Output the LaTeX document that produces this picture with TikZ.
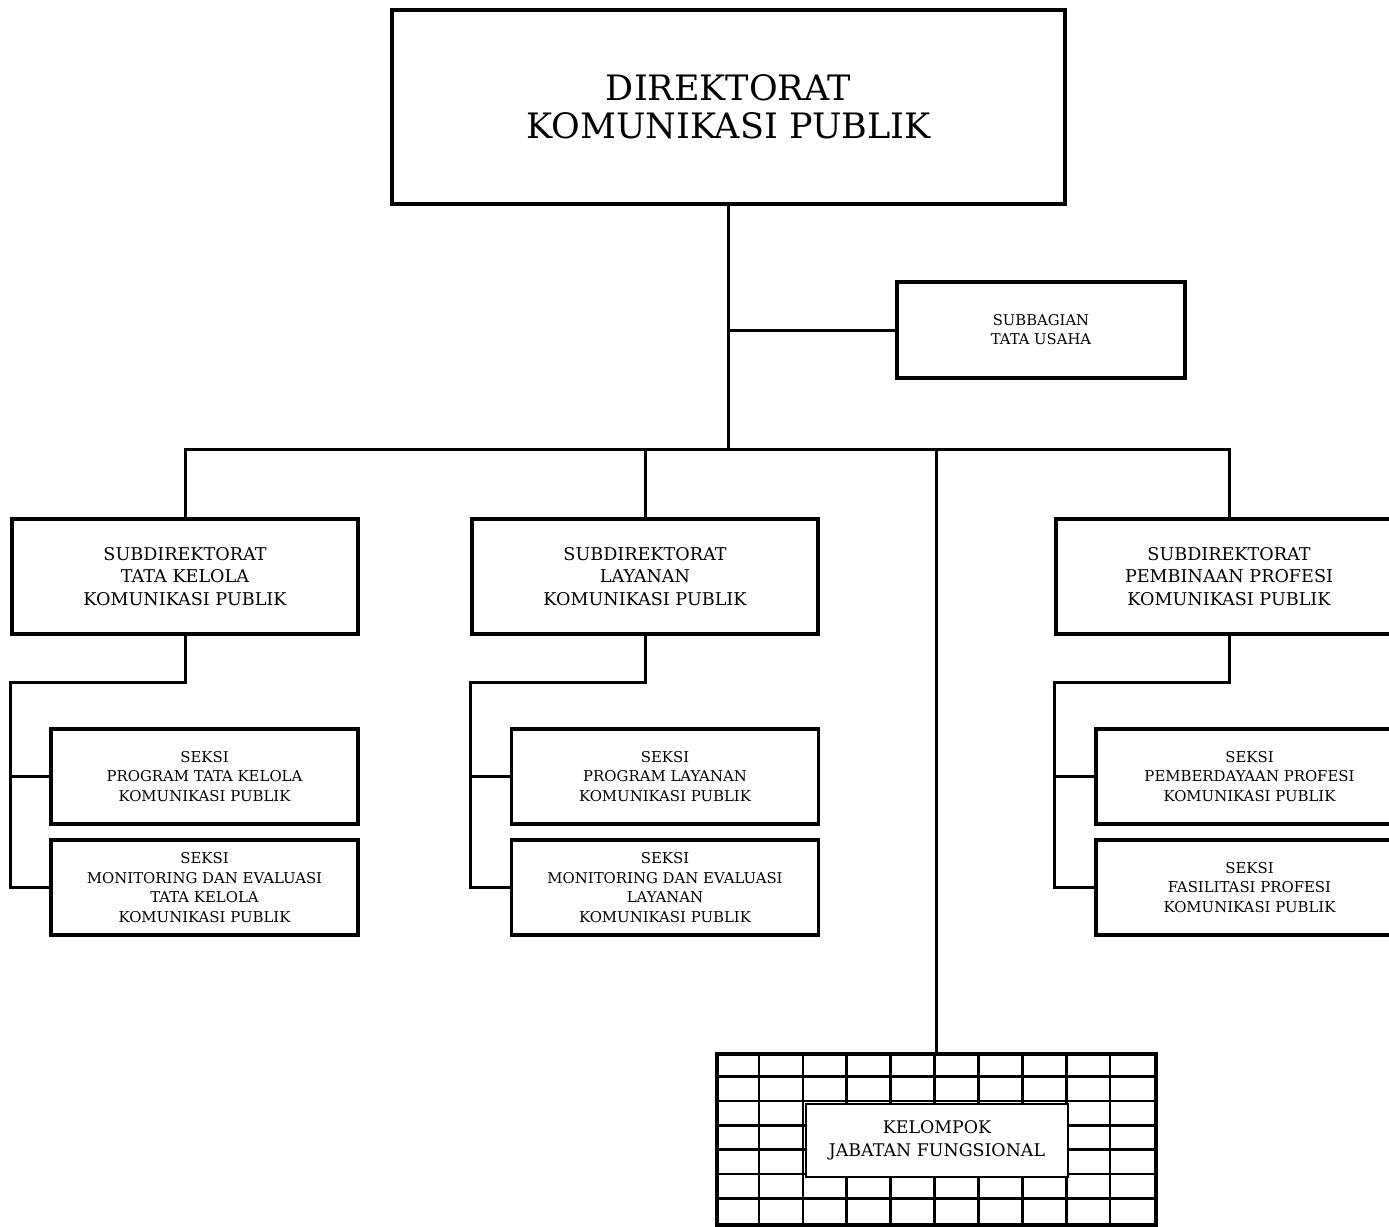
\documentclass[tikz,border=0pt]{standalone}
\usepackage{fontspec}
\setmainfont{DejaVu Serif}
\usetikzlibrary{calc}
\tikzset{
  conn/.style={line width=3pt, line cap=rect},
  boxbase/.style={draw, line width=3.3pt, rectangle, inner sep=0pt, align=center, fill=white},
  subbox/.style={boxbase, minimum width=346pt, minimum height=115pt, font=\fontsize{17.6}{22.8}\selectfont},
  seksibox/.style={boxbase, minimum width=307pt, minimum height=95pt, font=\fontsize{14.9}{19.4}\selectfont},
}
\begin{document}
\begin{tikzpicture}[x=1pt,y=-1pt]
\useasboundingbox (0,0) rectangle (1389,1226);
\clip (0,0) rectangle (1389,1226);
% top
\node[boxbase, minimum width=673pt, minimum height=194pt, font=\fontsize{35}{38}\selectfont] (top) at (728.5,107) {DIREKTORAT\\KOMUNIKASI PUBLIK};
\node[boxbase, minimum width=288pt, minimum height=96pt, font=\fontsize{14.8}{19}\selectfont] (sbag) at (1041,330) {SUBBAGIAN\\TATA USAHA};
% subdirektorat
\node[subbox] (subL) at (185,576.5) {SUBDIREKTORAT\\TATA KELOLA\\KOMUNIKASI PUBLIK};
\node[subbox] (subM) at (645,576.5) {SUBDIREKTORAT\\LAYANAN\\KOMUNIKASI PUBLIK};
\node[subbox] (subR) at (1229,576.5) {SUBDIREKTORAT\\PEMBINAAN PROFESI\\KOMUNIKASI PUBLIK};
% seksi
\node[seksibox] (sL1) at (204.5,776.5) {SEKSI\\PROGRAM TATA KELOLA\\KOMUNIKASI PUBLIK};
\node[seksibox] (sL2) at (204.5,887.5) {SEKSI\\MONITORING DAN EVALUASI\\TATA KELOLA\\KOMUNIKASI PUBLIK};
\node[seksibox] (sM1) at (665,776.5) {SEKSI\\PROGRAM LAYANAN\\KOMUNIKASI PUBLIK};
\node[seksibox] (sM2) at (665,887.5) {SEKSI\\MONITORING DAN EVALUASI\\LAYANAN\\KOMUNIKASI PUBLIK};
\node[seksibox] (sR1) at (1249.5,776.5) {SEKSI\\PEMBERDAYAAN PROFESI\\KOMUNIKASI PUBLIK};
\node[seksibox] (sR2) at (1249.5,887.5) {SEKSI\\FASILITASI PROFESI\\KOMUNIKASI PUBLIK};
% grid (kelompok jabatan fungsional)
\node[draw, line width=4pt, inner sep=0pt, minimum width=439pt, minimum height=171pt] (grid) at (936.5,1139.5) {};
\foreach \i in {1,...,9} {
  \draw[line width=2.6pt] ($(grid.north west)+(43.9*\i,0)$) -- ($(grid.south west)+(43.9*\i,0)$);
}
\foreach \j in {1,...,6} {
  \draw[line width=2.6pt] ($(grid.north west)+(0,24.43*\j)$) -- ($(grid.north east)+(0,24.43*\j)$);
}
\node[boxbase, line width=2.6pt, minimum width=262pt, minimum height=73pt, font=\fontsize{17.4}{22.5}\selectfont] (kjf) at (937,1140.5) {KELOMPOK\\JABATAN FUNGSIONAL};
% connectors
\coordinate (hub) at (728.5,449);
\draw[conn] (top.south) -- (hub);
\draw[conn] (top.south |- sbag.west) -- (sbag.west);
\draw[conn] (subL.north |- hub) -- (subR.north |- hub);
\draw[conn] (subL.north |- hub) -- (subL.north);
\draw[conn] (subM.north |- hub) -- (subM.north);
\draw[conn] (subR.north |- hub) -- (subR.north);
\draw[conn] (grid.north |- hub) -- (grid.north);
% subdir to seksi
\draw[conn] (subL.south) -- ++(0,46.5) -| (sL2.west -| subL.west) -- (sL2.west);
\draw[conn] (sL1.west -| subL.west) -- (sL1.west);
\draw[conn] (subM.south) -- ++(0,46.5) -| (sM2.west -| subM.west) -- (sM2.west);
\draw[conn] (sM1.west -| subM.west) -- (sM1.west);
\draw[conn] (subR.south) -- ++(0,46.5) -| (sR2.west -| subR.west) -- (sR2.west);
\draw[conn] (sR1.west -| subR.west) -- (sR1.west);
\end{tikzpicture}
\end{document}
